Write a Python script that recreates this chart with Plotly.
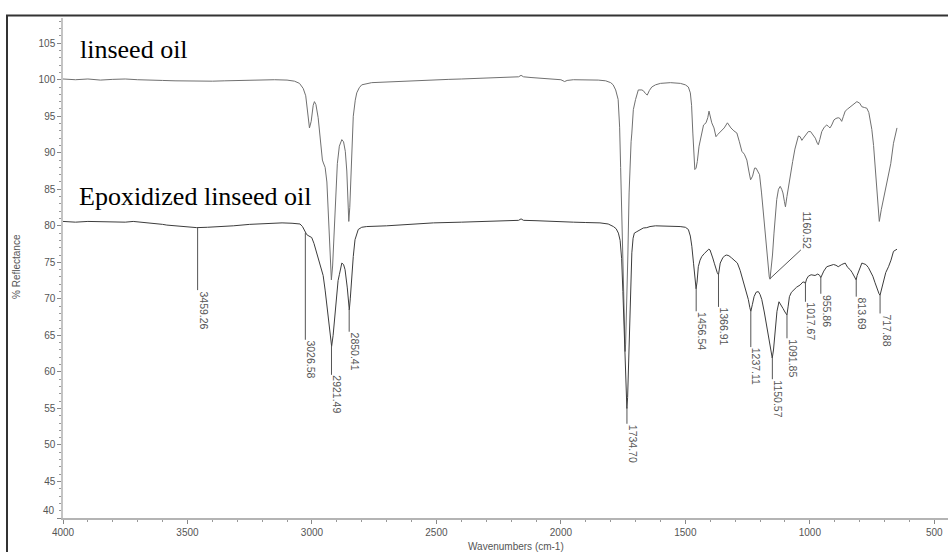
import numpy as np
import plotly.graph_objects as go

# ---------------- data ----------------
linseed_wn = [4000, 3950, 3900, 3850, 3800, 3750, 3700, 3650, 3600, 3550, 3500, 3450, 3400, 3350, 3300,
              3250, 3200, 3150, 3100, 3070, 3050, 3035, 3025, 3017, 3010, 3003, 2995, 2990, 2984, 2975,
              2967, 2958, 2954, 2947, 2940, 2933, 2926, 2922, 2917, 2910, 2903, 2898, 2890, 2880, 2873,
              2866, 2860, 2855, 2852, 2848, 2844, 2840, 2834, 2826, 2820, 2810, 2800, 2760, 2700, 2650,
              2600, 2550, 2500, 2450, 2400, 2350, 2300, 2250, 2200, 2170, 2160, 2150, 2120, 2080, 2040,
              2000, 1985, 1975, 1950, 1900, 1850, 1820, 1800, 1790, 1780, 1770, 1764, 1760, 1755, 1751,
              1747, 1744, 1742, 1740, 1736, 1731, 1726, 1722, 1718, 1715, 1709, 1700, 1689, 1675, 1669,
              1660, 1653, 1645, 1635, 1620, 1600, 1560, 1520, 1500, 1488, 1480, 1475, 1470, 1465, 1462,
              1457, 1452, 1445, 1435, 1427, 1417, 1410, 1405, 1400, 1394, 1385, 1377, 1370, 1360, 1350,
              1344, 1331, 1325, 1317, 1305, 1293, 1283, 1273, 1263, 1253, 1245, 1238, 1230, 1222, 1216,
              1208, 1202, 1194, 1186, 1178, 1170, 1163, 1160, 1155, 1150, 1144, 1138, 1133, 1126, 1119,
              1113, 1108, 1102, 1098, 1092, 1086, 1078, 1069, 1060, 1052, 1046, 1039, 1032, 1026, 1016,
              1006, 997, 988, 978, 970, 966, 960, 952, 942, 932, 925, 919, 912, 903, 895,
              886, 879, 872, 865, 858, 848, 838, 825, 811, 800, 791, 781, 771, 763, 757,
              751, 744, 738, 734, 728, 721, 713, 705, 695, 684, 675, 664, 657, 650]
linseed_r = [100.1, 100.0, 100.1, 99.95, 100.05, 100.1, 100.0, 99.9, 99.9, 99.85, 99.8, 99.8, 99.8, 99.85, 99.9,
             99.95, 100.0, 100.0, 99.95, 99.8, 99.5, 98.8, 97.8, 95.5, 93.4, 94.3, 96.5, 97.0, 96.6, 94.8,
             91.8, 89.0, 88.6, 88.0, 86.0, 80.0, 74.0, 72.6, 74.5, 80.0, 86.0, 88.5, 90.9, 91.8, 91.5,
             90.2, 87.5, 83.0, 80.6, 82.5, 85.5, 90.3, 95.0, 97.2, 98.2, 98.9, 99.3, 99.6, 99.7, 99.8,
             99.9, 99.95, 100.0, 100.05, 100.1, 100.15, 100.2, 100.3, 100.35, 100.4, 100.6, 100.4, 100.3, 100.2, 100.1,
             100.0, 99.75, 99.9, 100.0, 100.0, 99.95, 99.85, 99.6, 99.3, 98.6, 97.3, 93.5, 88.0, 81.0, 74.0,
             67.5, 63.8, 62.8, 63.8, 68.0, 76.0, 84.5, 89.5, 91.5, 92.7, 95.9, 97.3, 98.6, 98.6, 98.5,
             98.1, 97.9, 98.5, 99.0, 99.3, 99.5, 99.6, 99.5, 99.3, 99.0, 98.2, 96.5, 92.7, 89.0, 87.7,
             87.9, 88.8, 90.9, 92.8, 93.8, 94.1, 94.8, 95.7, 95.0, 94.1, 93.4, 92.2, 92.5, 92.9, 93.2,
             93.4, 94.1, 93.8, 93.4, 93.0, 92.7, 91.5, 90.2, 89.8, 89.0, 87.5, 86.3, 86.8, 87.9, 87.9,
             87.3, 87.0, 84.5, 81.3, 78.5, 75.3, 73.0, 72.7, 74.0, 76.0, 79.0, 81.5, 83.6, 85.0, 85.4,
             85.0, 84.5, 83.3, 82.6, 84.0, 85.4, 87.0, 88.8, 90.5, 91.8, 92.3, 92.2, 91.7, 92.0, 92.5,
             92.9, 92.9, 92.5, 92.0, 91.3, 91.1, 91.8, 92.9, 93.5, 93.8, 93.6, 93.4, 93.8, 94.5, 94.7,
             94.8, 94.7, 94.3, 95.0, 95.7, 96.0, 96.3, 96.6, 97.0, 96.8, 96.3, 96.2, 96.1, 95.5, 94.5,
             93.2, 91.0, 88.5, 87.2, 84.0, 80.6, 82.2, 83.6, 85.2, 86.8, 88.5, 91.3, 92.5, 93.4]

epox_wn = [4000, 3950, 3900, 3850, 3800, 3750, 3718, 3680, 3650, 3600, 3583, 3550, 3500, 3463, 3420,
           3380, 3316, 3250, 3182, 3120, 3080, 3048, 3038, 3030, 3026, 3021, 3012, 3001, 2992, 2981,
           2970, 2961, 2955, 2947, 2940, 2934, 2927, 2921, 2915, 2910, 2905, 2900, 2895, 2890, 2880,
           2873, 2867, 2858, 2853, 2850, 2846, 2843, 2840, 2834, 2827, 2820, 2814, 2800, 2780, 2700,
           2600, 2512, 2400, 2300, 2200, 2170, 2160, 2150, 2100, 2000, 1983, 1950, 1900, 1843, 1810,
           1789, 1778, 1769, 1762, 1756, 1751, 1746, 1741, 1737, 1735, 1732, 1728, 1723, 1719, 1715,
           1710, 1705, 1695, 1680, 1669, 1655, 1642, 1620, 1588, 1560, 1521, 1500, 1488, 1480, 1474,
           1467, 1461, 1457, 1453, 1448, 1441, 1434, 1424, 1414, 1406, 1401, 1395, 1390, 1383, 1377,
           1372, 1367, 1363, 1360, 1350, 1342, 1334, 1325, 1314, 1303, 1291, 1280, 1267, 1257, 1247,
           1241, 1237, 1231, 1224, 1216, 1207, 1200, 1193, 1183, 1173, 1163, 1155, 1151, 1146, 1140,
           1132, 1124, 1116, 1108, 1100, 1092, 1087, 1082, 1074, 1066, 1053, 1039, 1028, 1022, 1018,
           1013, 1006, 995, 979, 968, 960, 956, 950, 944, 932, 918, 905, 895, 886, 872,
           858, 848, 838, 830, 822, 816, 814, 810, 807, 800, 791, 783, 775, 765, 755,
           747, 738, 730, 722, 718, 713, 705, 695, 684, 674, 664, 657, 650]
epox_r = [80.6, 80.5, 80.6, 80.55, 80.6, 80.5, 80.6, 80.5, 80.4, 80.2, 80.1, 80.0, 79.85, 79.75, 79.8,
          79.85, 80.0, 80.2, 80.35, 80.4, 80.35, 80.25, 79.9, 79.3, 79.0, 78.8, 78.6, 78.4, 77.6, 76.3,
          74.8, 74.0, 73.2, 71.2, 69.0, 67.1, 64.8, 63.5, 65.0, 67.1, 69.0, 71.2, 72.5, 73.3, 74.9,
          74.7, 74.0, 71.5, 69.2, 68.5, 70.0, 71.7, 74.0, 75.8, 78.1, 79.0, 79.5, 79.8, 79.9, 80.0,
          80.2, 80.4, 80.5, 80.6, 80.7, 80.75, 80.95, 80.75, 80.7, 80.55, 80.45, 80.5, 80.45, 80.4, 80.25,
          79.9, 79.6, 79.0, 78.0, 75.5, 71.0, 65.0, 59.0, 56.0, 55.0, 56.5, 61.0, 67.5, 72.0, 76.3,
          78.3, 79.0, 79.2, 79.5, 79.7, 79.75, 79.9, 80.0, 80.0, 80.0, 79.9, 79.8, 79.5, 78.6, 77.2,
          74.8, 72.5, 71.4, 72.3, 74.4, 75.3, 75.8, 76.2, 76.5, 76.8, 76.7, 76.2, 75.6, 74.8, 74.0,
          73.6, 73.3, 74.2, 74.9, 75.6, 75.9, 76.0, 75.9, 75.6, 75.3, 74.9, 73.9, 72.4, 71.2, 69.9,
          68.8, 68.3, 69.2, 70.3, 70.9, 71.0, 70.6, 69.9, 68.2, 66.2, 63.8, 62.2, 61.9, 63.0, 65.8,
          68.3, 69.6, 69.2, 68.7, 68.2, 67.8, 69.0, 70.3, 70.9, 71.2, 71.6, 71.9, 72.3, 72.3, 72.1,
          72.7, 73.1, 73.3, 73.2, 73.4, 73.2, 72.9, 73.5, 73.8, 74.4, 74.6, 74.7, 74.6, 74.4, 74.7,
          74.9, 74.3, 74.0, 73.6, 73.1, 72.8, 72.6, 73.2, 73.5, 74.3, 74.9, 74.8, 74.7, 74.3, 73.7,
          73.1, 72.2, 71.3, 70.7, 70.5, 71.2, 72.4, 73.6, 74.4, 75.3, 76.5, 76.7, 76.8]

# peak labels on the epoxidized spectrum
peak_pos = [3459.26, 3026.58, 2921.49, 2850.41, 1734.70, 1456.54, 1366.91, 1237.11, 1150.57,
            1091.85, 1017.67, 955.86, 813.69, 717.88]
peak_text = ["3459.26", "3026.58", "2921.49", "2850.41", "1734.70", "1456.54", "1366.91", "1237.11",
             "1150.57", "1091.85", "1017.67", "955.86", "813.69", "717.88"]
peak_line_end = [71.2, 64.4, 59.6, 65.5, 52.9, 68.3, 68.9, 63.4, 59.0, 64.6, 69.6, 70.7, 70.3, 68.0]

# peak label on the linseed spectrum (leader goes up-right)
lin_peak_pos = 1160.52
lin_peak_text = "1160.52"
lin_leader_end = (1036, 76.7)

x_tickvals = [4000, 3500, 3000, 2500, 2000, 1500, 1000, 500]
x_ticktext = ["4000", "3500", "3000", "2500", "2000", "1500", "1000", "500"]
y_tickvals = [40, 45, 50, 55, 60, 65, 70, 75, 80, 85, 90, 95, 100, 105]
y_ticktext = ["", "45", "50", "55", "60", "65", "70", "75", "80", "85", "90", "95", "100", "105"]

# ---------------- figure ----------------
W, H = 948, 552
L, R, T, B = 63, 0, 18, 34
pw, ph = W - L - R, H - T - B


def px2paper(px, py):
    return (px - L) / pw, (H - B - py) / ph


fig = go.Figure()
fig.add_trace(go.Scatter(x=linseed_wn, y=linseed_r, mode="lines",
                         line=dict(color="#707070", width=1), hoverinfo="skip"))
fig.add_trace(go.Scatter(x=epox_wn, y=epox_r, mode="lines",
                         line=dict(color="#3c3c3c", width=1), hoverinfo="skip"))

shapes = []
annotations = []
ex = np.array(epox_wn[::-1], dtype=float)
ey = np.array(epox_r[::-1], dtype=float)
lx = np.array(linseed_wn[::-1], dtype=float)
ly = np.array(linseed_r[::-1], dtype=float)

label_font = dict(family="Liberation Sans, Arial, sans-serif", size=10.5, color="#555555")
for p, t, e in zip(peak_pos, peak_text, peak_line_end):
    top = float(np.interp(p, ex, ey))
    shapes.append(dict(type="line", xref="x", yref="y", x0=p, x1=p, y0=top, y1=e,
                       line=dict(color="#555555", width=1)))
    annotations.append(dict(x=p, y=e, xref="x", yref="y", text=t, showarrow=False,
                            textangle=90, xanchor="center", yanchor="top", xshift=6,
                            font=label_font, borderpad=0))

ltop = float(np.interp(lin_peak_pos, lx, ly))
shapes.append(dict(type="line", xref="x", yref="y", x0=lin_peak_pos, y0=ltop,
                   x1=lin_leader_end[0], y1=lin_leader_end[1], line=dict(color="#555555", width=1)))
annotations.append(dict(x=lin_leader_end[0], y=lin_leader_end[1], xref="x", yref="y",
                        text=lin_peak_text, showarrow=False, textangle=90,
                        xanchor="center", yanchor="bottom", xshift=6, font=label_font, borderpad=0))

# outer frame (left & top edges visible)
fx0, fy1 = px2paper(7, 15.5)
shapes.append(dict(type="rect", xref="paper", yref="paper", x0=fx0, x1=1.2, y0=-0.3, y1=fy1,
                   line=dict(color="#333333", width=2), layer="above"))

# curve labels
ax, ay = px2paper(78, 50)
annotations.append(dict(x=ax, y=ay, xref="paper", yref="paper", text="linseed oil", showarrow=False,
                        xanchor="left", yanchor="middle",
                        font=dict(family="Liberation Serif, Times New Roman, serif", size=26, color="#000")))
ax, ay = px2paper(77, 196)
annotations.append(dict(x=ax, y=ay, xref="paper", yref="paper", text="Epoxidized linseed oil",
                        showarrow=False, xanchor="left", yanchor="middle",
                        font=dict(family="Liberation Serif, Times New Roman, serif", size=26, color="#000")))

# axis titles
tick_font = dict(family="Liberation Sans, Arial, sans-serif", size=10, color="#555555")
ax, ay = px2paper(516, 546)
annotations.append(dict(x=ax, y=ay, xref="paper", yref="paper", text="Wavenumbers (cm-1)",
                        showarrow=False, xanchor="center", yanchor="middle", font=tick_font))
ax, ay = px2paper(16, 267)
annotations.append(dict(x=ax, y=ay, xref="paper", yref="paper", text="% Reflectance",
                        showarrow=False, textangle=-90, xanchor="center", yanchor="middle", font=tick_font))
# lowest y label sits slightly above its tick in the reference
ax, ay = px2paper(57, 510)
annotations.append(dict(x=ax, y=ay, xref="paper", yref="paper", text="40",
                        showarrow=False, xanchor="right", yanchor="middle", font=tick_font))

fig.update_layout(
    width=W, height=H,
    margin=dict(l=L, r=R, t=T, b=B),
    paper_bgcolor="white", plot_bgcolor="white",
    showlegend=False,
    shapes=shapes, annotations=annotations,
    xaxis=dict(range=[4000, 445], tickvals=x_tickvals, ticktext=x_ticktext,
               showgrid=False, zeroline=False, showline=True, linecolor="#b4b4b4", linewidth=2,
               ticks="outside", ticklen=4, tickcolor="#888", tickfont=tick_font,
               minor=dict(dtick=100, ticks="outside", ticklen=2, tickcolor="#999", showgrid=False)),
    yaxis=dict(range=[40, 108.45], tickvals=y_tickvals, ticktext=y_ticktext,
               showgrid=False, zeroline=False, showline=True, linecolor="#c4c4c4", linewidth=1.5,
               ticks="outside", ticklen=4, tickcolor="#888", tickfont=tick_font,
               minor=dict(dtick=1, ticks="outside", ticklen=2, tickcolor="#999", showgrid=False)),
)

fig.write_html("out.html")
